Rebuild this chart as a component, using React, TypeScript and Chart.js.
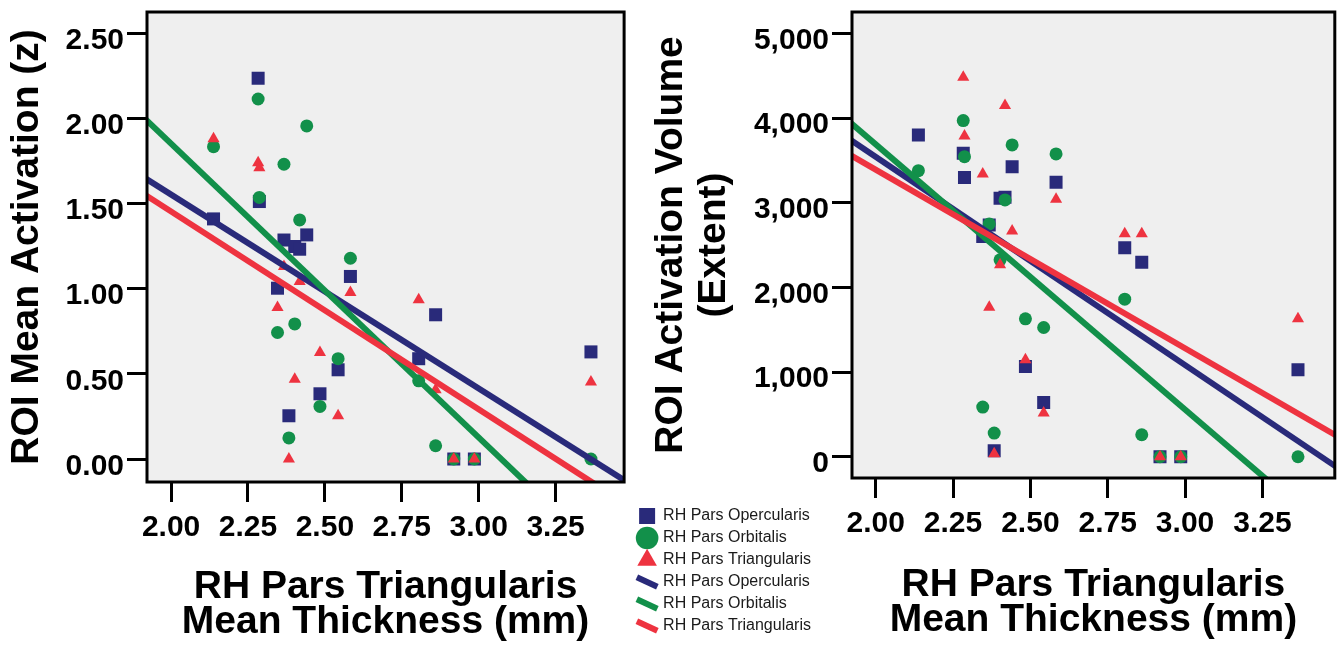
import React, { useEffect, useRef } from 'react';
import { Chart, registerables } from 'chart.js';

Chart.register(...registerables);

const FONT = "Arial, 'Liberation Sans', Helvetica, sans-serif";
Chart.defaults.font.family = FONT;

// Mean thickness (mm) of RH pars triangularis per subject
const thickness = [2.138, 2.283, 2.287, 2.346, 2.367, 2.383, 2.402, 2.418, 2.441, 2.484, 2.543, 2.583, 2.805, 2.86, 2.919, 2.986, 3.365];

// ROI mean activation (z)
const actOpercularis = [1.41, 2.236, 1.512, 1.003, 1.286, 0.254, 1.248, 1.232, 1.316, 0.383, 0.524, 1.072, 0.589, 0.847, 0, 0, 0.629];
const actOrbitalis = [1.834, 2.114, 1.536, 0.743, 1.731, 0.124, 0.793, 1.404, 1.956, 0.309, 0.589, 1.179, 0.459, 0.078, 0, 0, 0];
const actTriangularis = [1.88, 1.74, 1.71, 0.89, 1.13, 0, 0.469, 1.042, null, 0.625, 0.254, 0.978, 0.935, 0.407, 0, 0, 0.452];

// ROI activation volume (extent)
const volOpercularis = [3802, 3586, 3298, 2601, 2739, 71, 3054, 3066, 3427, 1066, 641, 3243, 2470, 2299, 0, 0, 1027];
const volOrbitalis = [3380, 3971, 3545, 587, 2751, 280, 2326, 3034, 3684, 1629, 1527, 3577, 1862, 260, 0, 0, 0];
const volTriangularis = [null, 4483, 3790, 3341, 1767, 35, 2267, 4148, 2668, 1145, 516, 3043, 2633, 2633, 0, 0, 1629];

// Fit lines (values at fitX endpoints)
const fitX = [1.9, 3.5];
const actFitOpercularis = [1.667, -0.155];
const actFitOrbitalis = [2.024, -0.736];
const actFitTriangularis = [1.570, -0.289];
const volFitOpercularis = [3789, -147];
const volFitOrbitalis = [4004, -1009];
const volFitTriangularis = [3602, 226];

const xTicks = [2.0, 2.25, 2.5, 2.75, 3.0, 3.25];
const actTicks = [0, 0.5, 1.0, 1.5, 2.0, 2.5];
const volTicks = [0, 1000, 2000, 3000, 4000, 5000];

const names = ['RH Pars Opercularis', 'RH Pars Orbitalis', 'RH Pars Triangularis'];
const colors = ['#292a7a', '#12904a', '#ee3340'];

const points = (ys: (number | null)[]) =>
  thickness.map((x, i) => ({ x, y: ys[i] })).filter((p) => p.y !== null);
const linePts = (ys: number[]) => fitX.map((x, i) => ({ x, y: ys[i] }));

const framePlugin = {
  id: 'frame',
  beforeDatasetsDraw(chart: any) {
    const { ctx, chartArea: a } = chart;
    ctx.save();
    ctx.fillStyle = '#efefef';
    ctx.fillRect(a.left, a.top, a.right - a.left, a.bottom - a.top);
    ctx.restore();
  },
  afterDatasetsDraw(chart: any) {
    const { ctx, chartArea: a } = chart;
    ctx.save();
    ctx.strokeStyle = '#000';
    ctx.lineWidth = 3;
    ctx.strokeRect(a.left, a.top, a.right - a.left, a.bottom - a.top);
    ctx.restore();
  },
};

function buildDatasets(op: (number | null)[], orb: (number | null)[], tri: (number | null)[], fOp: number[], fOrb: number[], fTri: number[]) {
  const line = (label: string, color: string, data: any) => ({
    type: 'line' as const,
    label,
    data,
    borderColor: color,
    backgroundColor: color,
    borderWidth: 6,
    pointRadius: 0,
    pointHoverRadius: 0,
    pointStyle: 'line',
    pointBorderWidth: 6,
    pointBorderColor: color,
    pointRotation: 25,
    fill: false,
    tension: 0,
  });
  const scat = (label: string, color: string, data: any, style: string, r: number) => ({
    type: 'scatter' as const,
    label,
    data,
    backgroundColor: color,
    borderColor: color,
    pointStyle: style,
    pointRadius: r,
    pointHoverRadius: r,
    pointBorderWidth: 0,
  });
  return [
    line(names[2], colors[2], linePts(fTri)),
    line(names[1], colors[1], linePts(fOrb)),
    line(names[0], colors[0], linePts(fOp)),
    scat(names[2], colors[2], points(tri), 'triangle', 7),
    scat(names[1], colors[1], points(orb), 'circle', 6.5),
    scat(names[0], colors[0], points(op), 'rect', 9.2),
  ];
}

const tickFont = { size: 30, weight: 'bold' as const };
const titleFont = { size: 39, weight: 'bold' as const };

const tickGrid = { display: true, drawOnChartArea: false, drawTicks: true, tickLength: 20, tickWidth: 3, tickColor: '#000' };

function xScale(min: number, max: number, height: number, titlePadBottom: number) {
  return {
    type: 'linear',
    position: 'bottom',
    min,
    max,
    afterBuildTicks: (axis: any) => {
      axis.ticks = xTicks.map((v) => ({ value: v }));
    },
    afterFit: (s: any) => {
      s.height = height;
      s.paddingLeft = 0;
      s.paddingRight = 0;
    },
    ticks: {
      font: tickFont,
      color: '#000',
      padding: 8,
      autoSkip: false,
      maxRotation: 0,
      callback: (v: any) => Number(v).toFixed(2),
    },
    grid: tickGrid,
    border: { display: false },
    title: {
      display: true,
      text: ['RH Pars Triangularis', 'Mean Thickness (mm)'],
      font: { ...titleFont, lineHeight: 0.9 },
      color: '#000',
      padding: { top: 0, bottom: titlePadBottom },
    },
  };
}

function ChartCanvas({ config, left, width }: { config: any; left: number; width: number }) {
  const ref = useRef<HTMLCanvasElement | null>(null);
  useEffect(() => {
    if (!ref.current) return;
    const chart = new Chart(ref.current, config);
    return () => chart.destroy();
  }, []);
  return (
    <canvas
      ref={ref}
      width={width}
      height={652}
      style={{ position: 'absolute', left, top: 0, width, height: 652 }}
    />
  );
}

const leftConfig = {
  type: 'scatter',
  data: {
    datasets: buildDatasets(actOpercularis, actOrbitalis, actTriangularis, actFitOpercularis, actFitOrbitalis, actFitTriangularis),
  },
  plugins: [framePlugin],
  options: {
    animation: false,
    responsive: false,
    maintainAspectRatio: false,
    events: [],
    layout: { padding: { left: 0, top: 12, right: 9, bottom: 12 } },
    plugins: {
      tooltip: { enabled: false },
      legend: {
        display: true,
        position: 'right',
        align: 'end',
        labels: {
          usePointStyle: true,
          padding: 6,
          color: '#1a1a1a',
          font: { size: 16, lineHeight: 1.2 },
          sort: (a: any, b: any) => b.datasetIndex - a.datasetIndex,
        },
      },
    },
    scales: {
      x: xScale(1.9217, 3.4728, 158, 0),
      y: {
        type: 'linear',
        position: 'left',
        min: -0.135,
        max: 2.625,
        afterBuildTicks: (axis: any) => {
          axis.ticks = actTicks.map((v) => ({ value: v }));
        },
        afterFit: (s: any) => {
          s.width = 147;
          s.paddingTop = 0;
          s.paddingBottom = 0;
        },
        ticks: {
          font: tickFont,
          color: '#000',
          padding: 3,
          labelOffset: 7.5,
          autoSkip: false,
          callback: (v: any) => Number(v).toFixed(2),
        },
        grid: tickGrid,
        border: { display: false },
        title: {
          display: true,
          text: 'ROI Mean Activation (z)',
          font: { ...titleFont, lineHeight: 1 },
          color: '#000',
          padding: { top: 7.5, bottom: 0 },
        },
      },
      pad: {
        type: 'linear',
        position: 'right',
        display: false,
        afterFit: (s: any) => {
          s.width = 9;
        },
      },
    },
  },
};

const rightConfig = {
  type: 'scatter',
  data: {
    datasets: buildDatasets(volOpercularis, volOrbitalis, volTriangularis, volFitOpercularis, volFitOrbitalis, volFitTriangularis),
  },
  plugins: [framePlugin],
  options: {
    animation: false,
    responsive: false,
    maintainAspectRatio: false,
    events: [],
    layout: { padding: { left: 0, top: 12, right: 9, bottom: 0 } },
    plugins: {
      tooltip: { enabled: false },
      legend: { display: false },
    },
    scales: {
      x: xScale(1.9234, 3.484, 174, 14),
      y: {
        type: 'linear',
        position: 'left',
        min: -251,
        max: 5254,
        afterBuildTicks: (axis: any) => {
          axis.ticks = volTicks.map((v) => ({ value: v }));
        },
        afterFit: (s: any) => {
          s.width = 212;
          s.paddingTop = 0;
          s.paddingBottom = 0;
        },
        ticks: {
          font: tickFont,
          color: '#000',
          padding: 3,
          labelOffset: 7,
          autoSkip: false,
          callback: (v: any) => Number(v).toLocaleString('en-US'),
        },
        grid: tickGrid,
        border: { display: false },
        title: {
          display: true,
          text: ['ROI Activation Volume', '(Extent)'],
          font: { ...titleFont, lineHeight: 1.1 },
          color: '#000',
          padding: { top: 10, bottom: 0 },
        },
      },
    },
  },
};

export default function App() {
  return (
    <div style={{ position: 'absolute', left: 0, top: 0, width: 1344, height: 652, background: '#fff', overflow: 'hidden' }}>
      <ChartCanvas config={leftConfig} left={0} width={830} />
      <ChartCanvas config={rightConfig} left={640} width={704} />
    </div>
  );
}
